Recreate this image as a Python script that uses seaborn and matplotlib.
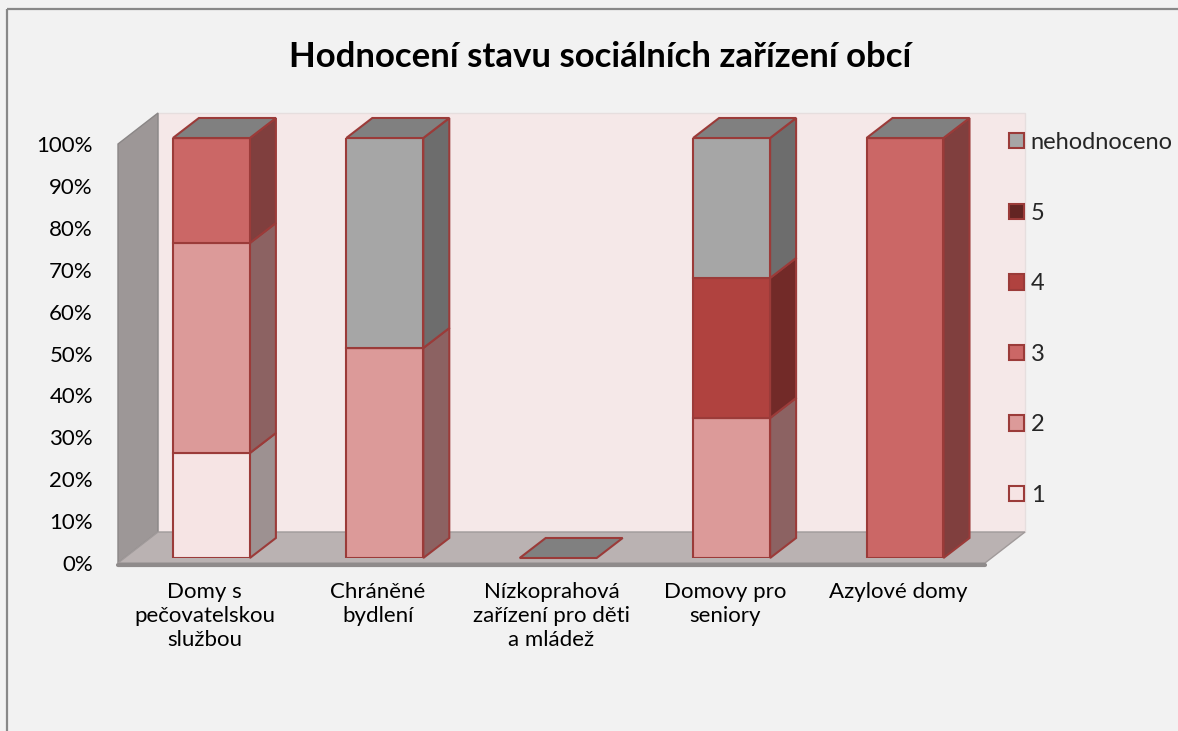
import matplotlib
matplotlib.use("Agg")
import matplotlib.pyplot as plt
from matplotlib.patches import Patch, Polygon
from matplotlib.lines import Line2D
import seaborn as sns
import numpy as np

# ---- data -------------------------------------------------------------
categories = [
    "Domy s\npečovatelskou\nslužbou",
    "Chráněné\nbydlení",
    "Nízkoprahová\nzařízení pro děti\na mládež",
    "Domovy pro\nseniory",
    "Azylové domy",
]
ratings = ["1", "2", "3", "4", "5", "nehodnoceno"]
share_1 = [25.0, 0.0, 0.0, 0.0, 0.0]
share_2 = [50.0, 50.0, 0.0, 100 / 3, 0.0]
share_3 = [25.0, 0.0, 0.0, 0.0, 100.0]
share_4 = [0.0, 0.0, 0.0, 100 / 3, 0.0]
share_5 = [0.0, 0.0, 0.0, 0.0, 0.0]
share_none = [0.0, 50.0, 0.0, 100 / 3, 0.0]
series = [share_1, share_2, share_3, share_4, share_5, share_none]
yticks = list(range(0, 101, 10))

# ---- styling ----------------------------------------------------------
front_colors = ["#f6e4e4", "#dc9a99", "#cb6766", "#b0423f", "#632523", "#a6a6a6"]
side_colors = ["#9d9191", "#8c6262", "#803f3e", "#722a28", "#4a1a19", "#6d6d6d"]
top_color = "#808080"
edge = "#9b3b39"
lw = 1.5
bar_w = 0.444

sns.set_theme(style="white")
FONT = ["Lato", "DejaVu Sans"]
plt.rcParams["font.family"] = FONT

W, H, DPI = 1178, 731, 100
fig = plt.figure(figsize=(W / DPI, H / DPI), dpi=DPI, facecolor="#f2f2f2")

# chart border (only the left and top edges fall inside the canvas)
fig.add_artist(Line2D([7 / W, 7 / W], [-0.1, 1 - 9 / H], transform=fig.transFigure,
                      color="#888888", lw=1.6, solid_capstyle="butt"))
fig.add_artist(Line2D([7 / W, 1.1], [1 - 9 / H, 1 - 9 / H], transform=fig.transFigure,
                      color="#888888", lw=1.6, solid_capstyle="butt"))

def px_axes(left, top, right, bottom):
    return [left / W, 1 - bottom / H, (right - left) / W, (bottom - top) / H]

# walls/floor frame axes (front plane of the box)
ax_w = fig.add_axes(px_axes(118, 144, 985, 563))
ax_w.set_xlim(-0.5, 4.5)
ax_w.set_ylim(0, 100)
ax_w.patch.set_visible(False)
for s in ax_w.spines.values():
    s.set_visible(False)

wx = 40 / (867 / 5)
wy = 31 / (419 / 100)
back = Polygon([(-0.5 + wx, wy), (4.5 + wx, wy), (4.5 + wx, 100 + wy), (-0.5 + wx, 100 + wy)],
               closed=True, facecolor="#f5e8e8", edgecolor="#e6dede", lw=1.0, clip_on=False, zorder=0)
left = Polygon([(-0.5, 0), (-0.5, 100), (-0.5 + wx, 100 + wy), (-0.5 + wx, wy)],
               closed=True, facecolor="#9d9797", edgecolor="#8a8686", lw=1.0, clip_on=False, zorder=1)
floor = Polygon([(-0.5, 0), (4.5, 0), (4.5 + wx, wy), (-0.5 + wx, wy)],
                closed=True, facecolor="#bab2b2", edgecolor="#a09a9a", lw=1.0, clip_on=False, zorder=1)
for p in (back, left, floor):
    ax_w.add_patch(p)
ax_w.plot([-0.5, 4.5], [-0.4, -0.4], color="#8f8b8b", lw=3, clip_on=False, zorder=2)

ax_w.set_yticks(yticks)
ax_w.set_yticklabels([f"{v}%" for v in yticks])
ax_w.set_xticks(range(len(categories)))
ax_w.set_xticklabels(categories, linespacing=1.25)
ax_w.tick_params(axis="y", length=0, pad=18, labelsize=16, labelcolor="#000000")
ax_w.tick_params(axis="x", length=0, pad=14, labelsize=16, labelcolor="#000000")
ax_w.grid(False)

# bars axes (front plane of the bars, slightly behind the box front)
ax = fig.add_axes(px_axes(124.7, 138, 991.7, 558))
ax.patch.set_visible(False)
bx = 26 / (867 / 5)
by = 20 / (420 / 100)

x = np.arange(len(categories))
bottom = np.zeros(len(categories))
for vals, fc, sc in zip(series, front_colors, side_colors):
    vals = np.asarray(vals, dtype=float)
    # side faces
    for xi, b, v in zip(x, bottom, vals):
        if v <= 0:
            continue
        xr = xi + bar_w / 2
        ax.add_patch(Polygon([(xr, b), (xr + bx, b + by), (xr + bx, b + v + by), (xr, b + v)],
                             closed=True, facecolor=sc, edgecolor=edge, lw=lw, clip_on=False, zorder=2))
    if vals.any():
        sns.barplot(x=x, y=vals, bottom=bottom, ax=ax, color=fc, saturation=1,
                    edgecolor=edge, linewidth=lw, width=bar_w, zorder=3, errorbar=None)
    bottom = bottom + vals

# top faces
for xi, t in zip(x, bottom):
    xl, xr = xi - bar_w / 2, xi + bar_w / 2
    ax.add_patch(Polygon([(xl, t), (xr, t), (xr + bx, t + by), (xl + bx, t + by)],
                         closed=True, facecolor=top_color, edgecolor=edge, lw=lw, clip_on=False, zorder=4))

ax.set_xlim(-0.5, 4.5)
ax.set_ylim(0, 100)
ax.set_xticks([])
ax.set_yticks([])
ax.set_xlabel("")
ax.set_ylabel("")
for s in ax.spines.values():
    s.set_visible(False)

# legend
handles = [Patch(facecolor=c, edgecolor=edge, lw=1.5) for c in front_colors][::-1]
labels = ratings[::-1]
fig.legend(handles, labels, loc="upper left", bbox_to_anchor=(1009 / W, 1 - 132 / H),
           frameon=False, fontsize=17, handlelength=0.62, handleheight=0.62,
           handletextpad=0.3, labelspacing=2.1, borderpad=0, borderaxespad=0)

fig.text(600 / W, 1 - 57 / H, "Hodnocení stavu sociálních zařízení obcí",
         ha="center", va="center", fontsize=25, fontweight="bold", color="#000000")

fig.savefig("out.png", dpi=DPI, facecolor=fig.get_facecolor())
